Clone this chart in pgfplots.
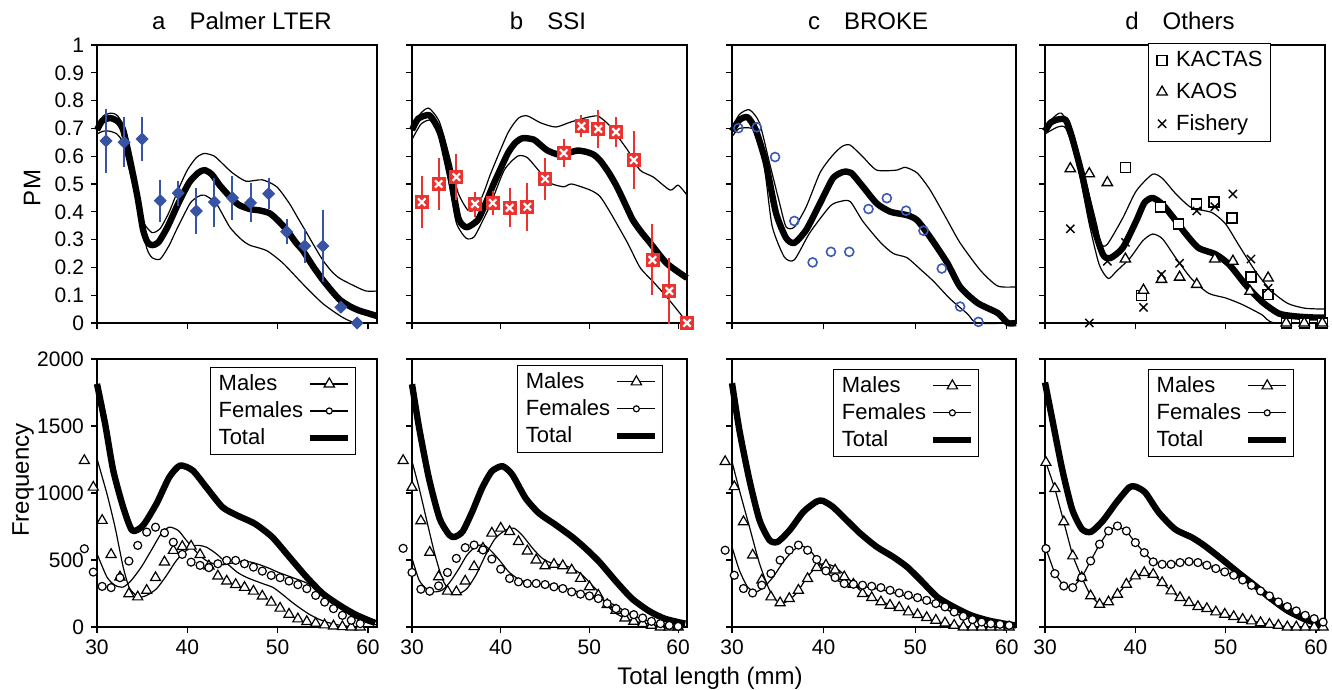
\documentclass[border=0pt]{standalone}
\usepackage{pgfplots}
\pgfplotsset{compat=1.18}
\usepackage{pgfplotstable}
\usepackage{fontspec}
\setmainfont{Liberation Sans}
\definecolor{pblue}{RGB}{55,83,165}
\definecolor{pred}{RGB}{236,50,46}
\definecolor{cblue}{RGB}{58,90,182}
\newcommand\tickfont{\fontsize{10.5}{12}\selectfont}
\newcommand\legfont{\fontsize{11}{13}\selectfont}
\newcommand\labfont{\fontsize{12}{14}\selectfont}

\pgfplotsset{
  base/.style={scale only axis, anchor=north west, xmin=30, xmax=61, clip=false,
    axis line style={line width=0.9pt}, tick align=outside, tick pos=left,
    major tick length=3pt, every tick/.style={black, line width=0.6pt},
    tick label style={font=\tickfont}, xtick={30,40,50,60},
    /pgf/number format/assume math mode=true},
  toprow/.style={base, ymin=0, ymax=1, height=139pt,
    ytick={0,0.1,0.2,0.3,0.4,0.5,0.6,0.7,0.8,0.9,1}, xticklabels={}, yticklabels={}},
  botrow/.style={base, ymin=0, ymax=2000, height=134pt,
    ytick={0,500,1000,1500,2000}, xticklabels={30,40,50,60}, yticklabels={},
    legend plot pos=right, legend cell align=left,
    legend style={anchor=north east, font=\legfont, draw=black, line width=0.5pt,
      inner xsep=2pt, inner ysep=1.5pt, nodes={inner sep=2pt}},
    legend image code/.code={\draw[mark repeat=2,mark phase=2,##1] plot coordinates {(0pt,0pt) (9.5pt,0pt) (19pt,0pt)};}},
  totline/.style={black, line width=3.2pt, line join=round, smooth, tension=0.4, forget plot},
  thinline/.style={black, line width=0.6pt, line join=round, smooth, tension=0.4, forget plot},
  trimark/.style={only marks, mark=triangle*, mark size=2.9pt, mark options={draw=black, fill=white, line width=0.6pt}, forget plot},
  circmark/.style={only marks, mark=*, mark size=2pt, mark options={draw=black, fill=white, line width=0.6pt}, forget plot},
}

% ---------- top row point data ----------
\pgfplotstableread[row sep=\\]{
x y e\\
31 0.655 0.115\\ 33 0.65 0.09\\ 35 0.662 0.08\\ 37 0.44 0.075\\ 39 0.467 0.045\\
41 0.403 0.083\\ 43 0.435 0.088\\ 45 0.45 0.078\\ 47 0.432 0.07\\ 49 0.465 0.055\\
51 0.328 0.045\\ 53 0.277 0.06\\ 55 0.277 0.13\\ 57 0.057 0.02\\ 58.8 0.0 0\\
}\ptsA
\pgfplotstableread[row sep=\\]{
x y e\\
31.1 0.435 0.094\\ 33 0.5 0.092\\ 35 0.525 0.083\\ 37.1 0.428 0.045\\ 39.1 0.432 0.042\\
41 0.414 0.07\\ 43 0.418 0.086\\ 45 0.518 0.074\\ 47.1 0.611 0.05\\ 49.1 0.708 0.04\\
51 0.698 0.068\\ 53 0.687 0.055\\ 55 0.586 0.105\\ 57.1 0.227 0.128\\ 59 0.115 0.12\\ 61 0.0 0\\
}\ptsB
\pgfplotstableread[row sep=\\]{
x y\\
30.7 0.701\\ 32.7 0.704\\ 34.7 0.597\\ 36.8 0.367\\ 38.8 0.218\\ 40.8 0.256\\ 42.8 0.256\\
44.9 0.41\\ 46.9 0.449\\ 49 0.404\\ 50.9 0.332\\ 52.9 0.196\\ 54.9 0.059\\ 56.9 0.004\\
}\ptsC
\pgfplotstableread[row sep=\\]{
x y\\
38.9 0.56\\ 40.7 0.1\\ 42.8 0.417\\ 44.8 0.356\\ 46.8 0.428\\ 48.7 0.435\\ 50.7 0.378\\
52.8 0.165\\ 54.7 0.103\\ 56.7 0\\ 58.7 0\\ 60.7 0\\
}\kactas
\pgfplotstableread[row sep=\\]{
x y\\
32.8 0.555\\ 34.9 0.537\\ 36.9 0.505\\ 38.9 0.23\\ 40.9 0.118\\ 42.9 0.157\\ 44.9 0.165\\
46.8 0.139\\ 48.8 0.23\\ 50.8 0.222\\ 52.7 0.114\\ 54.7 0.162\\ 56.7 0\\ 58.7 0\\ 60.7 0\\
}\kaos
\pgfplotstableread[row sep=\\]{
x y\\
32.8 0.339\\ 34.9 0.0\\ 36.9 0.222\\ 38.9 0.29\\ 40.9 0.056\\ 42.9 0.175\\ 44.9 0.215\\
46.8 0.403\\ 48.8 0.418\\ 50.8 0.464\\ 52.8 0.23\\ 54.7 0.125\\
}\fishery

% ---------- bottom row marker data ----------
\pgfplotstableread[row sep=\\]{
x m f\\
28.60 1242 584\\ 29.59 1043 410\\ 30.57 795 303\\ 31.56 541 294\\ 32.54 373 368\\
33.53 248 492\\ 34.51 224 609\\ 35.50 273 708\\ 36.48 368 745\\ 37.47 485 703\\
38.45 571 633\\ 39.44 600 542\\ 40.42 603 484\\ 41.41 540 460\\ 42.39 455 443\\
43.38 380 472\\ 44.36 342 497\\ 45.35 317 497\\ 46.33 295 472\\ 47.32 267 447\\
48.30 230 417\\ 49.29 185 385\\ 50.27 140 368\\ 51.26 95 343\\ 52.24 60 316\\
53.23 40 286\\ 54.21 27 236\\ 55.20 15 186\\ 56.18 7 137\\ 57.17 2 87\\
58.15 0 50\\ 59.14 0 25\\
}\botA
\pgfplotstableread[row sep=\\]{
x m f\\
29 1242 587\\ 30 1042 407\\ 31 792 282\\ 32 557 267\\ 33 375 307\\ 34 267 407\\
35 262 512\\ 36 342 592\\ 37 450 612\\ 38 587 575\\ 39 700 507\\ 40 737 432\\
41 712 362\\ 42 637 337\\ 43 567 325\\ 44 500 325\\ 45 457 317\\ 46 467 300\\
47 457 287\\ 48 425 262\\ 49 362 245\\ 50 300 232\\ 51 237 212\\ 52 167 175\\
53 125 137\\ 54 67 107\\ 55 42 92\\ 56 25 67\\ 57 12 42\\ 58 0 25\\ 59 0 12\\ 60 0 5\\
}\botB
\pgfplotstableread[row sep=\\]{
x m f\\
29.25 1234 573\\ 30.25 1047 386\\ 31.25 785 287\\ 32.25 536 254\\ 33.25 349 312\\
34.25 224 399\\ 35.25 180 499\\ 36.25 212 573\\ 37.25 274 611\\ 38.25 361 573\\
39.25 444 504\\ 40.25 461 419\\ 41.25 424 369\\ 42.25 374 324\\ 43.25 319 319\\
44.25 249 312\\ 45.25 219 304\\ 46.25 187 294\\ 47.25 162 274\\ 48.25 145 254\\
49.25 112 237\\ 50.25 92 219\\ 51.25 70 199\\ 52.25 50 175\\ 53.25 30 150\\
54.25 12 112\\ 55.25 0 80\\ 56.25 0 55\\ 57.25 0 37\\ 58.25 0 25\\ 59.25 0 20\\ 60.25 0 12\\
}\botC
\pgfplotstableread[row sep=\\]{
x m f\\
30.10 1228 585\\ 31.09 1033 398\\ 32.08 784 306\\ 33.07 530 294\\ 34.06 369 369\\
35.05 232 493\\ 36.04 169 618\\ 37.03 187 717\\ 38.02 244 754\\ 39.01 319 717\\
40.00 381 630\\ 40.99 406 555\\ 41.98 393 486\\ 42.97 331 468\\ 43.96 269 468\\
44.95 219 481\\ 45.94 182 488\\ 46.93 152 481\\ 47.92 137 461\\ 48.91 112 436\\
49.90 95 411\\ 50.89 77 386\\ 51.88 57 351\\ 52.87 45 311\\ 53.86 32 269\\
54.85 20 232\\ 55.84 12 187\\ 56.83 0 152\\ 57.82 0 120\\ 58.81 0 87\\ 59.80 0 62\\ 60.79 0 37\\
}\botD

\begin{document}
\begin{tikzpicture}
\path[use as bounding box] (0,0) rectangle (666pt,-345pt);

% ================= TOP ROW =================
% a Palmer LTER
\begin{axis}[toprow, at={(48.5pt,-22.5pt)}, width=140pt,
  yticklabels={0,0.1,0.2,0.3,0.4,0.5,0.6,0.7,0.8,0.9,1}]
\addplot[thinline] coordinates {(30,0.71) (30.7,0.745) (31.6,0.755) (32.3,0.745) (33,0.70) (33.8,0.57) (34.6,0.44) (35.2,0.36) (36.1,0.325) (37,0.34) (38,0.40) (39,0.48) (40,0.55) (41,0.595) (41.9,0.61) (43,0.60) (44,0.57) (45,0.54) (46.5,0.51) (48.3,0.515) (49.9,0.49) (51.3,0.43) (52.2,0.38) (53.2,0.325) (54,0.28) (55,0.226) (56,0.185) (56.9,0.16) (58.7,0.13) (59.8,0.115) (61,0.115)};
\addplot[thinline] coordinates {(30,0.68) (30.7,0.69) (31.4,0.69) (32.2,0.68) (32.8,0.65) (33.8,0.52) (34.8,0.38) (35.5,0.27) (36.1,0.235) (37,0.23) (38,0.28) (38.8,0.335) (40.3,0.43) (41.2,0.455) (41.9,0.46) (43.2,0.43) (44.7,0.345) (46,0.30) (46.9,0.28) (48.8,0.26) (50.6,0.215) (52.8,0.14) (55,0.07) (57.2,0.02) (58.7,0.0) (61,0.0)};
\addplot[totline] coordinates {(30,0.694) (30.6,0.728) (31.5,0.737) (32.3,0.725) (32.9,0.694) (33.7,0.58) (34.5,0.45) (35.1,0.335) (35.6,0.29) (36.1,0.28) (36.8,0.29) (37.8,0.345) (39,0.43) (40.2,0.505) (41.2,0.54) (41.9,0.55) (42.7,0.535) (43.6,0.495) (44.7,0.455) (45.7,0.425) (46.9,0.41) (48,0.405) (49.1,0.395) (50,0.37) (51,0.335) (52,0.29) (52.8,0.26) (54,0.2) (55,0.155) (56,0.115) (56.9,0.083) (58,0.06) (59,0.045) (60,0.035) (61,0.025)};
\addplot[only marks, mark=none, error bars/.cd, y dir=both, y explicit, error mark=none,
  error bar style={draw=pblue, line width=1pt}] table[x=x, y=y, y error=e] {\ptsA};
\addplot[only marks, mark=square*, mark size=2.1pt, mark options={rotate=45, fill=pblue, draw=pblue}] table[x=x, y=y] {\ptsA};
\end{axis}

% b SSI
\begin{axis}[toprow, at={(206pt,-22.5pt)}, width=137.5pt]
\addplot[thinline] coordinates {(30,0.71) (31,0.755) (31.9,0.773) (33,0.73) (33.7,0.66) (34.4,0.575) (35.2,0.468) (36.3,0.406) (37.2,0.41) (38.1,0.47) (38.9,0.54) (40.8,0.683) (42,0.737) (43,0.745) (44.5,0.72) (46.2,0.705) (47.9,0.723) (49.8,0.74) (50.9,0.745) (51.6,0.73) (52.4,0.705) (54.3,0.622) (55.7,0.55) (57.2,0.525) (59.1,0.478) (60,0.496) (61,0.46)};
\addplot[thinline] coordinates {(30,0.66) (31,0.715) (32,0.73) (32.7,0.70) (33.3,0.65) (34.2,0.50) (35,0.36) (36.1,0.305) (37,0.31) (38,0.37) (38.9,0.43) (40.4,0.55) (41.9,0.6) (43,0.595) (44.5,0.54) (45.6,0.503) (47.1,0.49) (48,0.5) (50.1,0.478) (51.2,0.455) (52.4,0.395) (54.3,0.288) (55.7,0.2) (57.2,0.148) (58.7,0.094) (60.2,0.035) (61,0.0)};
\addplot[totline] coordinates {(30,0.694) (30.7,0.735) (31.9,0.748) (32.6,0.72) (33.3,0.67) (34.4,0.514) (35.2,0.38) (35.8,0.35) (36.3,0.345) (37.4,0.37) (38.3,0.43) (39.2,0.5) (40.8,0.61) (41.7,0.65) (42.5,0.665) (43.7,0.66) (44.5,0.64) (45.3,0.62) (46.7,0.605) (48.6,0.62) (49.7,0.615) (50.5,0.605) (51.2,0.585) (52.2,0.54) (53.1,0.49) (54,0.43) (54.9,0.37) (55.9,0.325) (56.8,0.29) (58.7,0.215) (61,0.162)};
\addplot[only marks, mark=none, error bars/.cd, y dir=both, y explicit, error mark=none,
  error bar style={draw=pred, line width=1pt}] table[x=x, y=y, y error=e] {\ptsB};
\addplot[only marks, mark=square*, mark size=3.25pt, mark options={fill=pred, draw=pred}] table[x=x, y=y] {\ptsB};
\addplot[only marks, mark=x, mark size=2.6pt, mark options={draw=white, line width=1.1pt}] table[x=x, y=y] {\ptsB};
\end{axis}

% c BROKE
\begin{axis}[toprow, at={(366pt,-22.5pt)}, width=142pt]
\addplot[thinline] coordinates {(30,0.70) (30.8,0.75) (31.9,0.767) (33,0.72) (34.1,0.575) (35.2,0.43) (35.9,0.346) (36.8,0.345) (38.1,0.418) (39.6,0.54) (40.9,0.6) (42,0.635) (42.9,0.64) (44.3,0.597) (45.8,0.55) (48,0.55) (48.9,0.56) (50.2,0.54) (51.6,0.48) (53.5,0.37) (54.9,0.288) (57.1,0.19) (59,0.133) (61,0.13)};
\addplot[thinline] coordinates {(30,0.67) (30.8,0.70) (32.2,0.70) (33,0.67) (33.7,0.52) (34.4,0.346) (35.7,0.238) (36.8,0.227) (38.5,0.325) (40.7,0.42) (41.8,0.437) (42.9,0.437) (44.3,0.365) (46.2,0.29) (47.6,0.25) (49.1,0.235) (50.5,0.195) (52,0.15) (53.8,0.087) (55.7,0.033) (56.8,0.0) (61,0)};
\addplot[totline] coordinates {(30,0.69) (30.8,0.73) (31.7,0.74) (32.6,0.694) (33.7,0.575) (34.8,0.396) (35.9,0.306) (36.8,0.288) (38.1,0.335) (39.6,0.43) (41,0.52) (42.1,0.543) (43,0.54) (44.3,0.49) (45.8,0.43) (47.3,0.4) (49.1,0.388) (50.2,0.37) (51.6,0.31) (53.5,0.216) (54.9,0.13) (56.8,0.072) (59,0.036) (60.1,0.0) (61,0.0)};
\addplot[only marks, mark=o, mark size=2.25pt, mark options={draw=cblue, line width=0.8pt}] table[x=x, y=y] {\ptsC};
\end{axis}

% d Others
\begin{axis}[toprow, at={(522.5pt,-22.5pt)}, width=140pt,
  legend cell align=left,
  legend style={at={(0.807,1.007)}, anchor=north east, font=\legfont, draw=black,
    line width=0.5pt, row sep=2.5pt, inner xsep=2pt, inner ysep=2pt, nodes={inner sep=2pt}},
  legend image code/.code={\path[draw=none, fill=none] (0pt,-1pt) rectangle (10pt,1pt); \draw[#1] plot coordinates {(5pt,0pt)};}]
\addplot[thinline] coordinates {(30,0.70) (30.8,0.735) (31.8,0.755) (33,0.69) (34.2,0.55) (35.7,0.356) (36.2,0.283) (36.9,0.283) (38.6,0.377) (40.1,0.475) (41.9,0.535) (43,0.52) (44.5,0.464) (46.2,0.415) (48.5,0.397) (50,0.356) (51.4,0.283) (53.3,0.186) (55.1,0.114) (56.9,0.07) (58.8,0.053) (61,0.05)};
\addplot[thinline] coordinates {(30,0.68) (31.4,0.705) (32.3,0.70) (33.5,0.584) (34.9,0.356) (36,0.21) (37,0.16) (37.9,0.186) (39.4,0.233) (40.8,0.295) (41.9,0.32) (43,0.303) (44.5,0.233) (46.2,0.16) (48.1,0.107) (50,0.09) (51.8,0.067) (54,0.03) (55.4,0.0) (61,0)};
\addplot[totline] coordinates {(30,0.69) (30.6,0.72) (31.4,0.732) (32.3,0.73) (33,0.667) (34.2,0.52) (35.3,0.356) (36.4,0.247) (37.2,0.233) (38.6,0.27) (40.1,0.367) (41,0.432) (41.9,0.45) (43,0.427) (44.5,0.367) (45.6,0.32) (47,0.27) (48.9,0.247) (50.4,0.21) (52.2,0.138) (54,0.077) (55.9,0.034) (57.7,0.024) (59.6,0.02) (61,0.02)};
\addplot[only marks, mark=square*, mark size=2.5pt, mark options={draw=black, fill=white, line width=0.65pt}] table[x=x, y=y] {\kactas};
\addlegendentry{KACTAS}
\addplot[only marks, mark=triangle*, mark size=3pt, mark options={draw=black, fill=white, line width=0.65pt}] table[x=x, y=y] {\kaos};
\addlegendentry{KAOS}
\addplot[only marks, mark=x, mark size=2.9pt, mark options={draw=black, line width=0.7pt}] table[x=x, y=y] {\fishery};
\addlegendentry{Fishery}
\end{axis}

% ================= BOTTOM ROW =================
% a
\begin{axis}[botrow, at={(48.5pt,-179.5pt)}, width=140pt,
  yticklabels={0,500,1000,1500,2000}, legend style={at={(0.925,0.97)}}]
\addlegendimage{black, line width=0.6pt, mark=triangle*, mark size=3pt, mark options={fill=white, solid}}
\addlegendentry{Males}
\addlegendimage{black, line width=0.6pt, mark=*, mark size=1.5pt, mark options={fill=white, solid}}
\addlegendentry{Females}
\addlegendimage{black, line width=3.2pt}
\addlegendentry{Total}
\addplot[totline] coordinates {(30,1814) (30.9,1516) (31.8,1168) (32.9,894) (33.9,720) (35.1,758) (36.6,922) (38,1118) (39.2,1205) (40.6,1168) (42.1,1043) (43.9,894) (45.6,830) (47.5,770) (49.4,671) (51.3,522) (53.2,373) (55,249) (56.9,160) (58.7,90) (60.8,30)};
\addplot[thinline] coordinates {(30,1255) (31.1,994) (32,745) (32.9,447) (33.6,290) (34.6,224) (35.5,236) (36.6,286) (37.7,385) (38.8,497) (39.9,571) (41,609) (42.1,596) (43.2,547) (44.3,480) (45.5,410) (46.5,372) (47.5,345) (48.5,320) (49.5,295) (50.5,245) (51.5,190) (52.5,140) (53.5,95) (54.5,60) (55.5,35) (56.5,18) (57.5,8) (58.5,2) (61,0)};
\addplot[thinline] coordinates {(30,547) (31.1,373) (32,311) (32.9,298) (33.8,348) (34.9,447) (36,571) (37.1,696) (38,745) (39,720) (39.9,646) (41,560) (42,500) (43,470) (44,465) (45,478) (46,490) (47,485) (48,465) (49,440) (50,410) (51,385) (52,360) (53,335) (54,300) (55,250) (56,195) (57,140) (58,90) (59,55) (60,30) (61,15)};
\addplot[trimark] table[x=x, y=m] {\botA};
\addplot[circmark] table[x=x, y=f] {\botA};
\end{axis}

% b
\begin{axis}[botrow, at={(206pt,-179.5pt)}, width=137.5pt, legend style={at={(0.913,0.978)}}]
\addlegendimage{black, line width=0.6pt, mark=triangle*, mark size=3pt, mark options={fill=white, solid}}
\addlegendentry{Males}
\addlegendimage{black, line width=0.6pt, mark=*, mark size=1.5pt, mark options={fill=white, solid}}
\addlegendentry{Females}
\addlegendimage{black, line width=3.2pt}
\addlegendentry{Total}
\addplot[totline] coordinates {(30,1812) (30.8,1487) (31.9,1112) (33.1,812) (34.2,687) (34.8,672) (35.7,712) (36.8,862) (37.9,1037) (39,1162) (40.2,1200) (41.3,1137) (42.8,962) (44.3,850) (46.2,762) (48.1,670) (49.5,590) (51.1,487) (53,340) (54.8,212) (56.7,120) (58.5,62) (60.8,25)};
\addplot[thinline] coordinates {(30,1237) (30.8,1037) (31.6,812) (32.5,562) (33.4,362) (34.3,262) (35.3,250) (36.2,287) (37.2,387) (38.3,537) (39.4,662) (40.6,725) (41.5,737) (42.4,687) (43.6,587) (44.7,512) (45.8,475) (47,462) (48.1,437) (49.2,387) (50.3,312) (51.1,255) (51.9,170) (52.9,105) (54,67) (55.5,37) (57.7,12) (60.7,3)};
\addplot[thinline] coordinates {(30,512) (30.8,350) (31.6,287) (32.5,262) (33.4,275) (34.3,337) (35.3,437) (36.2,537) (37.2,600) (38.1,612) (39,562) (40,487) (40.9,412) (41.9,362) (43,332) (44.3,325) (45.8,312) (47.3,287) (48.8,262) (50,240) (51,215) (52.9,162) (54.8,87) (57.1,37) (60.8,5)};
\addplot[trimark] table[x=x, y=m] {\botB};
\addplot[circmark] table[x=x, y=f] {\botB};
\end{axis}

% c
\begin{axis}[botrow, at={(366pt,-179.5pt)}, width=142pt, legend style={at={(0.87,0.963)}}]
\addlegendimage{black, line width=0.6pt, mark=triangle*, mark size=3pt, mark options={fill=white, solid}}
\addlegendentry{Males}
\addlegendimage{black, line width=0.6pt, mark=*, mark size=1.5pt, mark options={fill=white, solid}}
\addlegendentry{Females}
\addlegendimage{black, line width=3.2pt}
\addlegendentry{Total}
\addplot[totline] coordinates {(30,1820) (30.8,1471) (31.9,1097) (33,798) (34.1,648) (35,636) (36.3,723) (37.8,860) (39.2,935) (39.9,942) (41,897) (42.5,798) (44,698) (45.8,598) (47.6,523) (49.1,449) (50.6,349) (52.4,224) (54.2,150) (56.1,87) (57.9,50) (59.7,25) (61,12)};
\addplot[thinline] coordinates {(30,1234) (30.8,1022) (31.9,748) (33,474) (34.1,274) (35,187) (35.9,187) (37,249) (38.1,361) (39.2,449) (40.1,474) (41.2,449) (42.5,374) (44,274) (45.4,212) (46.9,175) (48.7,125) (50.6,75) (52.4,37) (54.2,12) (56.1,0) (61,0)};
\addplot[thinline] coordinates {(30,598) (30.8,424) (31.7,299) (32.6,262) (33.5,299) (34.5,374) (35.6,486) (36.7,573) (37.6,603) (38.5,573) (39.6,474) (40.7,386) (41.8,337) (43.3,312) (45.1,294) (46.9,269) (48.7,237) (50.6,204) (52.4,162) (54.2,105) (56.1,55) (57.9,25) (60.8,5)};
\addplot[trimark] table[x=x, y=m] {\botC};
\addplot[circmark] table[x=x, y=f] {\botC};
\end{axis}

% d
\begin{axis}[botrow, at={(522.5pt,-179.5pt)}, width=140pt, legend style={at={(0.889,0.963)}}]
\addlegendimage{black, line width=0.6pt, mark=triangle*, mark size=3pt, mark options={fill=white, solid}}
\addlegendentry{Males}
\addlegendimage{black, line width=0.6pt, mark=*, mark size=1.5pt, mark options={fill=white, solid}}
\addlegendentry{Females}
\addlegendimage{black, line width=3.2pt}
\addlegendentry{Total}
\addplot[totline] coordinates {(30,1825) (30.8,1551) (31.9,1178) (33,879) (34.1,730) (35.1,710) (36.4,792) (37.9,929) (39.3,1041) (40,1048) (41.1,1003) (42.6,854) (44.4,730) (46.3,667) (47.7,605) (49.6,505) (51.4,406) (53.3,306) (55.1,207) (56.9,120) (58.8,57) (60.6,20)};
\addplot[black, line width=0.6pt, mark=triangle*, mark size=2.9pt, mark options={fill=white}, forget plot] table[x=x, y=m] {\botD};
\addplot[black, line width=0.6pt, mark=*, mark size=2pt, mark options={fill=white}, forget plot] table[x=x, y=f] {\botD};
\end{axis}

% ================= TEXT =================
\node[anchor=base, font=\labfont] at (121pt,-15pt) {a\quad Palmer LTER};
\node[anchor=base, font=\labfont] at (274pt,-15pt) {b\quad SSI};
\node[anchor=base, font=\labfont] at (434pt,-15pt) {c\quad BROKE};
\node[anchor=base, font=\labfont] at (590pt,-15pt) {d\quad Others};
\node[rotate=90, font=\labfont] at (16pt,-94pt) {PM};
\node[rotate=90, font=\labfont] at (11.5pt,-240pt) {Frequency};
\node[anchor=base, font=\labfont] at (355pt,-342pt) {Total length (mm)};
\end{tikzpicture}
\end{document}
